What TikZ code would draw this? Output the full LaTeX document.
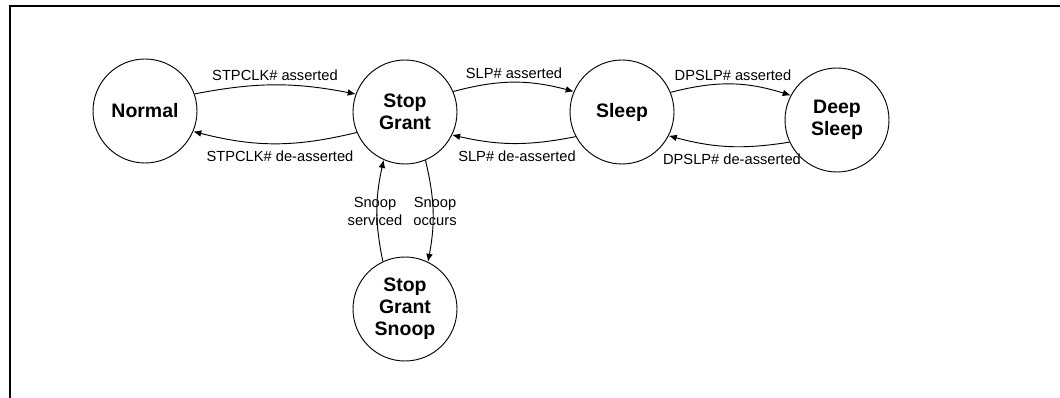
\documentclass[tikz,border=0pt]{standalone}
\usepackage{fontspec}
\setmainfont{Liberation Sans}
\usetikzlibrary{arrows.meta}
\begin{document}
\begin{tikzpicture}[x=0.75pt,y=-0.75pt,
  state/.style={circle,draw,line width=0.7pt,minimum size=78pt,inner sep=0pt,align=center,
    font=\fontsize{14.6}{16.5}\selectfont\bfseries},
  lbl/.style={inner sep=0pt,align=center,font=\fontsize{11}{13.5}\selectfont},
  tr/.style={line width=0.7pt,-{Latex[length=6pt,width=5pt]}},
  frameline/.style={line width=1.6pt}]
\useasboundingbox (0,0) rectangle (1060,398);
\coordinate (fTL) at (10,6);
\coordinate (fTR) at (1060,6);
\coordinate (fBL) at (10,398);
\draw[frameline] (fTR) -- (fTL) -- (fBL);

\node[state] (normal) at (145,111) {Normal};
\node[state] (sg) at (405,112) {Stop\\Grant};
\node[state] (sleep) at (622,112) {Sleep};
\node[state] (deep) at (837,120) {Deep\\Sleep};
\node[state] (sgs) at (405,309) {Stop\\Grant\\Snoop};

\draw[tr] (normal.19) to[bend left=11] (sg.160);
\draw[tr] (sg.203) to[bend left=14] (normal.337);
\draw[tr] (sg.23) to[bend left=15] (sleep.157);
\draw[tr] (sleep.208) to[bend left=12] (sg.334);
\draw[tr] (sleep.22) to[bend left=16] (deep.152);
\draw[tr] (deep.205) to[bend left=12] (sleep.333);
\draw[tr] (sgs.115) to[bend left=12] (sg.246);
\draw[tr] (sg.293) to[bend left=12] (sgs.64);

\node[lbl] (l1) at (275,75) {STPCLK\# asserted};
\node[lbl] (l2) at (280,156) {STPCLK\# de-asserted};
\node[lbl] (l3) at (514,73) {SLP\# asserted};
\node[lbl] (l4) at (517,156) {SLP\# de-asserted};
\node[lbl] (l5) at (733,75) {DPSLP\# asserted};
\node[lbl] (l6) at (732,159) {DPSLP\# de-asserted};
\node[lbl] (l7) at (375,211) {Snoop\\serviced};
\node[lbl] (l8) at (435,211) {Snoop\\occurs};
\end{tikzpicture}
\end{document}
